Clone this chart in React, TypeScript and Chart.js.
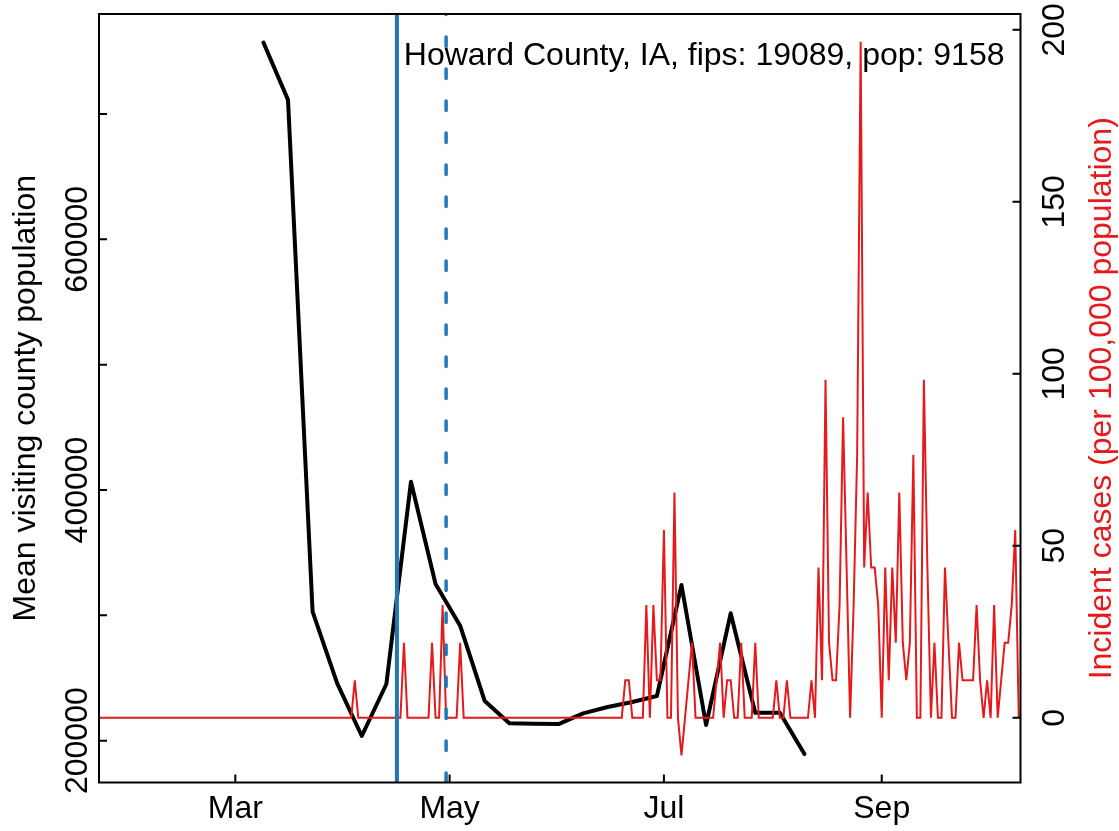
import { useEffect, useRef } from "react";
import { Chart, registerables } from "chart.js";

Chart.register(...registerables);

// x values are day numbers counted from 2020-01-01 (= day 0)
const incidentStartDay = 21; // 2020-01-22, one value per day after that
const incidentPer100k: number[] = [
  0, 0, 0, 0, 0, 0, 0, 0, 0, 0, // 21-30
  0, 0, 0, 0, 0, 0, 0, 0, 0, 0, // 31-40
  0, 0, 0, 0, 0, 0, 0, 0, 0, 0, // 41-50
  0, 0, 0, 0, 0, 0, 0, 0, 0, 0, // 51-60
  0, 0, 0, 0, 0, 0, 0, 0, 0, 0, // 61-70
  0, 0, 0, 0, 0, 0, 0, 0, 0, 0, // 71-80
  0, 0, 0, 0, 0, 0, 0, 0, 0, 0, // 81-90
  0, 0, 0, 10.92, 0, 0, 0, 0, 0, 0, // 91-100
  0, 0, 0, 0, 0, 0, 0, 21.84, 0, 0, // 101-110
  0, 0, 0, 0, 0, 21.84, 0, 0, 32.76, 0, // 111-120
  0, 0, 0, 21.84, 0, 0, 0, 0, 0, 0, // 121-130
  0, 0, 0, 0, 0, 0, 0, 0, 0, 0, // 131-140
  0, 0, 0, 0, 0, 0, 0, 0, 0, 0, // 141-150
  0, 0, 0, 0, 0, 0, 0, 0, 0, 0, // 151-160
  0, 0, 0, 0, 0, 0, 0, 0, 0, 0, // 161-170
  10.92, 10.92, 0, 0, 0, 0, 32.76, 0, 32.76, 10.92, // 171-180
  10.92, 54.6, 0, 0, 65.52, 0, -10.92, 0, 10.92, 21.84, // 181-190
  0, 0, 0, 0, 0, 0, 10.92, 21.84, 0, 10.92, // 191-200
  10.92, 0, 0, 21.84, 0, 0, 0, 21.84, 0, 0, // 201-210
  0, 0, 0, 10.92, 0, 0, 10.92, 0, 0, 0, // 211-220
  0, 0, 0, 10.92, 0, 43.68, 10.92, 98.28, 21.84, 10.92, // 221-230
  10.92, 32.76, 87.36, 43.68, 0, 32.76, 76.44, 196.55, 43.68, 65.52, // 231-240
  43.68, 43.68, 32.76, 0, 43.68, 10.92, 43.68, 21.84, 65.52, 21.84, // 241-250
  10.92, 21.84, 76.44, 0, 0, 98.28, 43.68, 0, 21.84, 0, // 251-260
  0, 43.68, 21.84, 0, 0, 21.84, 10.92, 10.92, 10.92, 10.92, // 261-270
  32.76, 10.92, 0, 10.92, 0, 32.76, 0, 10.92, 21.84, 21.84, // 271-280
  32.76, 54.6, 0, // 281-283
];

const visitWeekDays = [68, 75, 82, 89, 96, 103, 110, 117, 124, 131, 138, 145, 152, 159, 166, 173, 180, 187, 194, 201, 208, 215, 222];
const visitMeanPop = [757000, 711300, 302900, 245700, 203700, 245200, 406600, 325000, 291700, 231600, 213800, 213500, 213200, 221800, 226800, 230800, 235600, 324200, 212500, 301600, 222300, 222300, 189300];

const solidLineDay = 106;
const dashedLineDay = 120;

const xTickDays = [60, 121, 182, 244];
const xTickLabels = ["Mar", "May", "Jul", "Sep"];
const leftTickValues = [200000, 300000, 400000, 500000, 600000, 700000];
const leftLabelValues = [200000, 400000, 600000];
const rightTickValues = [0, 50, 100, 150, 200];
const rightTickLabels = ["0", "50", "100", "150", "200"];

const xRange = [21.2, 283.5];
const leftRange = [166600, 779800];
const rightRange = [-18.8, 204.6];

const leftTitle = "Mean visiting county population";
const rightTitle = "Incident cases (per 100,000 population)";
const panelText = "Howard County, IA, fips: 19089, pop: 9158";

const RED = "#E41A1C";
const BLUE = "#1F78B4";
const FONT = '32px "Liberation Sans", Arial, sans-serif';

const axesPlugin = {
  id: "rStyleAxes",
  afterDraw(chart: any) {
    const { ctx, chartArea: a, scales } = chart;
    const xs = scales.x;
    const yl = scales.y;
    const yr = scales.y2;
    ctx.save();
    ctx.strokeStyle = "#000";
    ctx.lineWidth = 2;
    ctx.strokeRect(a.left, a.top, a.right - a.left, a.bottom - a.top);
    ctx.beginPath();
    xTickDays.forEach((d) => {
      const px = xs.getPixelForValue(d);
      ctx.moveTo(px, a.bottom);
      ctx.lineTo(px, a.bottom - 8);
    });
    leftTickValues.forEach((v) => {
      const py = yl.getPixelForValue(v);
      ctx.moveTo(a.left, py);
      ctx.lineTo(a.left + 8, py);
    });
    rightTickValues.forEach((v) => {
      const py = yr.getPixelForValue(v);
      ctx.moveTo(a.right, py);
      ctx.lineTo(a.right - 8, py);
    });
    ctx.stroke();

    ctx.font = FONT;
    ctx.fillStyle = "#000";
    ctx.textAlign = "center";
    ctx.textBaseline = "alphabetic";
    xTickDays.forEach((d, i) => {
      ctx.fillText(xTickLabels[i], xs.getPixelForValue(d), a.bottom + 35.5);
    });
    const rot = (text: string, px: number, py: number, color: string) => {
      ctx.save();
      ctx.translate(px, py);
      ctx.rotate(-Math.PI / 2);
      ctx.fillStyle = color;
      ctx.textAlign = "center";
      ctx.fillText(text, 0, 0);
      ctx.restore();
    };
    leftLabelValues.forEach((v) => rot(String(v), a.left - 12, yl.getPixelForValue(v), "#000"));
    rightTickValues.forEach((v, i) => rot(rightTickLabels[i], a.right + 43, yr.getPixelForValue(v), "#000"));
    const mid = (a.top + a.bottom) / 2;
    rot(leftTitle, 35, mid, "#000");
    rot(rightTitle, 1111, mid, RED);
    ctx.textAlign = "right";
    ctx.fillStyle = "#000";
    ctx.fillText(panelText, 1004.5, 65);
    ctx.restore();
  },
};

export default function App() {
  const ref = useRef<HTMLCanvasElement | null>(null);
  useEffect(() => {
    if (!ref.current) return;
    const chart = new Chart(ref.current, {
      type: "line",
      data: {
        datasets: [
          {
            label: "solid",
            data: [
              { x: solidLineDay, y: leftRange[0] },
              { x: solidLineDay, y: leftRange[1] },
            ],
            yAxisID: "y",
            borderColor: BLUE,
            borderWidth: 4,
            pointRadius: 0,
            order: 0,
          },
          {
            label: "dashed",
            data: [
              { x: dashedLineDay, y: leftRange[0] },
              { x: dashedLineDay, y: leftRange[1] },
            ],
            yAxisID: "y",
            borderColor: BLUE,
            borderWidth: 3.5,
            borderDash: [9.5, 22.5],
            borderCapStyle: "round",
            pointRadius: 0,
            order: 0,
          },
          {
            label: "incident",
            data: incidentPer100k.map((v, i) => ({ x: incidentStartDay + i, y: v })),
            yAxisID: "y2",
            borderColor: RED,
            borderWidth: 2,
            pointRadius: 0,
            tension: 0,
            order: 1,
          },
          {
            label: "visits",
            data: visitWeekDays.map((d, i) => ({ x: d, y: visitMeanPop[i] })),
            yAxisID: "y",
            borderColor: "#000",
            borderWidth: 4,
            borderCapStyle: "round",
            borderJoinStyle: "round",
            pointRadius: 0,
            tension: 0,
            order: 2,
          },
        ],
      },
      options: {
        animation: false,
        responsive: false,
        devicePixelRatio: 1,
        layout: { padding: { left: 99, right: 98.5, top: 14, bottom: 48.5 } },
        plugins: { legend: { display: false }, tooltip: { enabled: false } },
        scales: {
          x: { type: "linear", min: xRange[0], max: xRange[1], display: false },
          y: { type: "linear", min: leftRange[0], max: leftRange[1], display: false },
          y2: { type: "linear", position: "right", min: rightRange[0], max: rightRange[1], display: false },
        },
      },
      plugins: [axesPlugin],
    } as any);
    return () => chart.destroy();
  }, []);
  return (
    <div style={{ position: "absolute", left: 0, top: 0, width: 1119, height: 831, background: "#fff" }}>
      <canvas ref={ref} width={1119} height={831} />
    </div>
  );
}
